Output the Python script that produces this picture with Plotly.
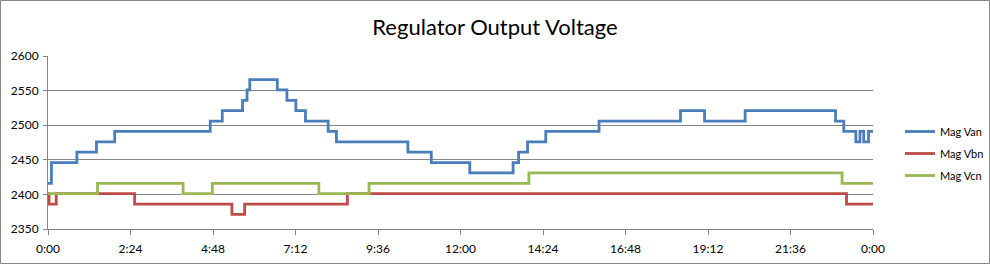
import plotly.graph_objects as go

# ---- data (hours since 0:00, value at each change point; drawn as steps) ----
van_t = [0.0, 0.10, 0.84, 1.41, 1.94, 4.72, 5.07, 5.66, 5.79, 5.87, 6.67, 6.95, 7.21, 7.49,
         8.15, 8.39, 10.47, 11.15, 12.27, 13.53, 13.69, 13.95, 14.48, 16.03, 18.40, 19.10,
         20.28, 22.91, 23.15, 23.50, 23.62, 23.73, 23.87, 24.0]
van_v = [2416, 2446, 2461, 2476, 2491, 2506, 2521, 2536, 2551, 2566, 2551, 2536, 2521, 2506,
         2491, 2476, 2461, 2446, 2431, 2446, 2461, 2476, 2491, 2506, 2521, 2506,
         2521, 2506, 2491, 2476, 2491, 2476, 2491, 2491]

vbn_t = [0.0, 0.03, 0.24, 2.52, 5.35, 5.72, 8.71, 23.23, 24.0]
vbn_v = [2401, 2386, 2401, 2386, 2371, 2386, 2401, 2386, 2386]

vcn_t = [0.0, 1.44, 3.93, 4.78, 7.88, 9.34, 13.99, 23.10, 24.0]
vcn_v = [2401, 2416, 2401, 2416, 2401, 2416, 2431, 2416, 2416]

series_names = ["Mag Van", "Mag Vbn", "Mag Vcn"]
series_colors = ["#4A7EBB", "#BE4B48", "#98B954"]

x_tickvals = [0, 2.4, 4.8, 7.2, 9.6, 12.0, 14.4, 16.8, 19.2, 21.6, 24.0]
x_ticktext = ["0:00", "2:24", "4:48", "7:12", "9:36", "12:00", "14:24", "16:48", "19:12", "21:36", "0:00"]
y_tickvals = [2350, 2400, 2450, 2500, 2550, 2600]

title_text = "Regulator Output Voltage"

# ---- figure ----
W, H = 990, 264
ml, mr, mt, mb = 48, 117, 56, 35
pw, ph = W - ml - mr, H - mt - mb

fig = go.Figure()
for i, (t, v, name, col) in enumerate(zip([van_t, vbn_t, vcn_t], [van_v, vbn_v, vcn_v],
                                         series_names, series_colors)):
    fig.add_trace(go.Scatter(x=t, y=v, name=name, mode="lines", legendgroup=f"g{i}",
                             line=dict(color=col, width=2.8, shape="hv")))

font_family = "Lato, Calibri, 'Open Sans', sans-serif"
fig.update_layout(
    width=W, height=H,
    margin=dict(l=ml, r=mr, t=mt, b=mb, pad=0, autoexpand=False),
    paper_bgcolor="white", plot_bgcolor="white",
    font=dict(family=font_family, size=12, color="black"),
    title=dict(text=title_text, x=0.5, xanchor="center", xref="container",
               y=1 - 27 / H, yanchor="middle", yref="container",
               font=dict(size=22, family=font_family, color="black")),
    showlegend=True,
    legend=dict(x=(900 - ml) / pw, xanchor="left", y=(H - mb - 117) / ph, yanchor="top",
                font=dict(size=11, family=font_family, color="black"),
                bgcolor="rgba(0,0,0,0)", traceorder="grouped", tracegroupgap=3, itemwidth=30),
    xaxis=dict(range=[0, 24], tickmode="array", tickvals=x_tickvals, ticktext=x_ticktext,
               showgrid=False, zeroline=False, showline=True, linecolor="#868686", linewidth=1,
               ticks="outside", ticklen=5, tickcolor="#868686", tickfont=dict(size=12),
               ticklabelstandoff=4),
    yaxis=dict(range=[2350, 2600], tickmode="array", tickvals=y_tickvals,
               showgrid=True, gridcolor="#868686", gridwidth=1, zeroline=False,
               showline=True, linecolor="#868686", linewidth=1,
               ticks="outside", ticklen=4, tickcolor="#868686", tickfont=dict(size=12),
               ticklabelstandoff=2),
)

# outer chart border
fig.add_shape(type="rect", xref="paper", yref="paper",
              x0=-(ml - 0.5) / pw, x1=(pw + mr - 0.5) / pw,
              y0=-(mb - 0.5) / ph, y1=(ph + mt - 0.5) / ph,
              line=dict(color="#868686", width=1), fillcolor="rgba(0,0,0,0)", layer="below")

fig.write_html("out.html")
